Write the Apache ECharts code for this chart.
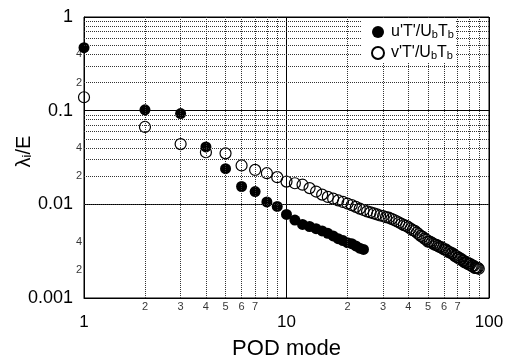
<!DOCTYPE html>
<html><head><meta charset="utf-8">
<script src="https://cdn.jsdelivr.net/npm/echarts@6/dist/echarts.min.js"></script>
<style>html,body{margin:0;padding:0;background:#fff}#c{width:506px;height:361px}</style>
</head><body><div id="c"></div>
<script>
// ---- data ----
const uName = "u'T'/UbTb";
const vName = "v'T'/UbTb";
const uModes = [1,2,3,4,5,6,7,8,9,10,11,12,13,14,15,16,17,18,19,20,21,22,23,24];
const uValues = [0.47,0.102,0.093,0.041,0.024,0.0155,0.0137,0.0106,0.0095,0.0078,0.0068,0.0061,0.0058,0.0055,0.0052,0.0049,0.0046,0.0043,0.0041,0.0039,0.0038,0.0036,0.0034,0.0033];
const vModes = [1,2,3,4,5,6,7,8,9,10,11,12,13,14,15,16,17,18,19,20,21,22,23,24,25,26,27,28,29,30,31,32,33,34,35,36,37,38,39,40,41,42,43,44,45,46,47,48,49,50,51,52,53,54,55,56,57,58,59,60,61,62,63,64,65,66,67,68,69,70,71,72,73,74,75,76,77,78,79,80,81,82,83,84,85,86,87,88,89];
const vValues = [0.139,0.067,0.044,0.036,0.035,0.026,0.0233,0.0215,0.0195,0.0175,0.0168,0.0162,0.0149,0.0137,0.0127,0.0120,0.0115,0.0110,0.0106,0.0102,0.0098,0.0094,0.0090,0.0087,0.0084,0.0082,0.0080,0.0078,0.0076,0.0075,0.0073,0.0072,0.0070,0.0068,0.0066,0.0064,0.0062,0.0060,0.0059,0.0057,0.0055,0.0053,0.0052,0.0050,0.0048,0.0046,0.0045,0.0043,0.0042,0.0040,0.0040,0.0039,0.0038,0.0037,0.0037,0.0036,0.0035,0.0035,0.0034,0.0033,0.0033,0.0032,0.0031,0.0031,0.0030,0.0030,0.0029,0.0028,0.0028,0.0027,0.0027,0.0026,0.0026,0.0025,0.0025,0.0024,0.0024,0.0024,0.0023,0.0023,0.0023,0.0022,0.0022,0.0022,0.0021,0.0021,0.0021,0.0021,0.00205];

const xMajorTicks = [1,10,100];
const xMajorLabels = ['1','10','100'];
const yMajorTicks = [0.001,0.01,0.1,1];
const yMajorLabels = ['0.001','0.01','0.1','1'];
const xMinorTicks = [2,3,4,5,6,7,8,9,20,30,40,50,60,70,80,90];
const xMinorLabels = ['2','3','4','5','6','7','','','2','3','4','5','6','7','',''];
const yMinorTicks = [0.002,0.003,0.004,0.005,0.006,0.007,0.008,0.009,0.02,0.03,0.04,0.05,0.06,0.07,0.08,0.09,0.2,0.3,0.4,0.5,0.6,0.7,0.8,0.9];
const yMinorLabels = ['2','','4','','','','','','2','','4','','','','','','2','','4','','','','',''];

const FONT = "'Liberation Sans', Arial, sans-serif";
function lookup(ticks, labels, v) {
  for (let i = 0; i < ticks.length; i++) {
    if (Math.abs(Math.log10(ticks[i]) - Math.log10(v)) < 1e-6) return labels[i];
  }
  return '';
}
const minorStyle = { color: '#333', type: [1, 1], width: 1 };
const gridLines = [];
xMinorTicks.forEach(t => gridLines.push({ xAxis: t, lineStyle: minorStyle, label: { show: false } }));
yMinorTicks.forEach(t => gridLines.push({ yAxis: t, lineStyle: minorStyle, label: { show: false } }));

const xMinorLabelPts = [];
xMinorTicks.forEach((t, i) => { if (xMinorLabels[i]) xMinorLabelPts.push({ value: [t, 0.001], label: { formatter: xMinorLabels[i] } }); });
const yMinorLabelPts = [];
yMinorTicks.forEach((t, i) => { if (yMinorLabels[i]) yMinorLabelPts.push({ value: [1, t], label: { formatter: yMinorLabels[i] } }); });
const minorLabelStyle = { show: true, fontSize: 11, color: '#000', fontFamily: FONT };

const chart = echarts.init(document.getElementById('c'), null, { renderer: 'canvas' });
chart.setOption({
  animation: false,
  backgroundColor: '#fff',
  textStyle: { fontFamily: FONT },
  grid: { left: 84, right: 17, top: 17, bottom: 63, containLabel: false, outerBoundsMode: 'none',
          show: true, borderColor: '#000', borderWidth: 1, backgroundColor: 'transparent' },
  graphic: { elements: [
    { type: 'rect', z: 100, shape: { x: 362, y: 19, width: 94, height: 43 }, style: { fill: '#fff' }, silent: true }
  ] },
  legend: {
    z: 200,
    orient: 'vertical', left: 362, top: 24,
    data: [uName, vName],
    padding: [0, 3, 0, 9],
    itemWidth: 16, itemHeight: 12, itemGap: 5,
    formatter: n => '{a|' + n.charAt(0) + "'T'/U}{s|b}{a|T}{s|b}",
    textStyle: {
      fontFamily: FONT, color: '#000',
      rich: {
        a: { fontSize: 16, color: '#000', fontFamily: FONT, verticalAlign: 'middle' },
        s: { fontSize: 11, color: '#000', fontFamily: FONT, verticalAlign: 'bottom' }
      }
    }
  },
  xAxis: {
    type: 'log', logBase: 10, min: 1, max: 100,
    name: 'POD mode', nameLocation: 'middle', nameGap: 40, nameMoveOverlap: false,
    nameTextStyle: { fontSize: 22, color: '#000', fontFamily: FONT },
    axisLine: { show: true, lineStyle: { color: '#000', width: 1 } },
    axisTick: { show: false },
    axisLabel: { margin: 16, fontSize: 17, color: '#000', fontFamily: FONT,
      formatter: v => lookup(xMajorTicks, xMajorLabels, v) },
    splitLine: { show: true, lineStyle: { color: '#000', width: 1 } }
  },
  yAxis: {
    type: 'log', logBase: 10, min: 0.001, max: 1,
    name: '{l|λ}{i|i}{l|/E}', nameLocation: 'middle', nameGap: 50, nameRotate: 90, nameMoveOverlap: false,
    nameTextStyle: { padding: [0, 0, 0, 12], rich: {
      l: { fontSize: 20, color: '#000', fontFamily: FONT },
      i: { fontSize: 13, color: '#000', fontFamily: FONT, verticalAlign: 'bottom' }
    } },
    axisLine: { show: true, lineStyle: { color: '#000', width: 1 } },
    axisTick: { show: false },
    axisLabel: { margin: 11, fontSize: 18, color: '#000', fontFamily: FONT,
      formatter: v => lookup(yMajorTicks, yMajorLabels, v) },
    splitLine: { show: true, lineStyle: { color: '#000', width: 1 } }
  },
  series: [
    {
      type: 'line', data: [], z: 1, silent: true,
      markLine: { silent: true, symbol: 'none', animation: false, data: gridLines }
    },
    {
      type: 'scatter', silent: true, symbolSize: 0, clip: false, z: 1,
      data: xMinorLabelPts,
      itemStyle: { color: 'transparent' },
      label: Object.assign({ position: 'bottom', distance: 3 }, minorLabelStyle)
    },
    {
      type: 'scatter', silent: true, symbolSize: 0, clip: false, z: 1,
      data: yMinorLabelPts,
      itemStyle: { color: 'transparent' },
      label: Object.assign({ position: 'left', distance: 2 }, minorLabelStyle)
    },
    {
      name: vName, type: 'scatter', symbol: 'circle', symbolSize: 11, z: 3,
      data: vModes.map((m, i) => [m, vValues[i]]),
      itemStyle: { color: 'transparent', borderColor: '#000', borderWidth: 1.2, opacity: 1 }
    },
    {
      name: uName, type: 'scatter', symbol: 'circle', symbolSize: 11, z: 4,
      data: uModes.map((m, i) => [m, uValues[i]]),
      itemStyle: { color: '#000', opacity: 1 }
    }
  ]
});
</script>
</body></html>
